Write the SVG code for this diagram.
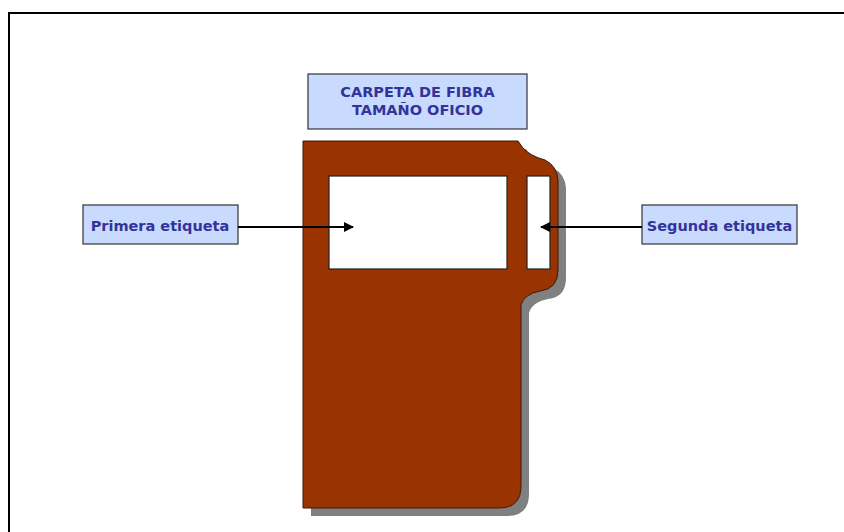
<svg xmlns="http://www.w3.org/2000/svg" width="844" height="532" viewBox="0 0 844 532">
<style>
.lbl{fill:#c9daff;stroke:#333;stroke-width:1.2}
.txt{font-family:"DejaVu Sans",sans-serif;font-size:14.5px;font-weight:bold;fill:#333399;text-anchor:middle}
.win{fill:#fff;stroke:#222;stroke-width:1.2}
.conn{stroke:#000;stroke-width:2;fill:none;marker-end:url(#ah)}
</style>
<defs>
<marker id="ah" viewBox="0 0 10 10" refX="9" refY="5" markerWidth="5" markerHeight="5" orient="auto" markerUnits="strokeWidth">
<path d="M0,0 L10,5 L0,10 Z" fill="#000"/>
</marker>
<path id="folder" d="M303,141 L518,141 L523,148 Q530,156 545,160 Q557,166 558,180 L558,270 Q558,289 540,291 Q524,294 521,305 L521,486 Q521,508 499,508 L303,508 Z"/>
</defs>
<rect x="0" y="0" width="844" height="532" fill="#fff"/>
<rect x="9" y="13" width="900" height="600" fill="none" stroke="#000" stroke-width="2"/>
<g id="folder-node">
<use href="#folder" transform="translate(8,8)" fill="#808080"/>
<use href="#folder" fill="#993300" stroke="#3a1a0a" stroke-width="1"/>
<rect class="win" x="329" y="176" width="178" height="93"/>
<rect class="win" x="527" y="176" width="23" height="93"/>
</g>
<g id="title">
<rect class="lbl" x="308" y="74" width="219" height="55"/>
<text class="txt" x="417.5" y="97">CARPETA DE FIBRA</text>
<text class="txt" x="417.5" y="115">TAMAÑO OFICIO</text>
</g>
<g id="primera">
<rect class="lbl" x="83" y="205" width="155" height="39"/>
<text class="txt" x="160" y="231">Primera etiqueta</text>
</g>
<g id="segunda">
<rect class="lbl" x="642" y="205" width="155" height="39"/>
<text class="txt" x="719.5" y="231">Segunda etiqueta</text>
</g>
<g id="connectors">
<line class="conn" x1="238" y1="227" x2="353" y2="227"/>
<line class="conn" x1="642" y1="227" x2="541" y2="227"/>
</g>
</svg>
